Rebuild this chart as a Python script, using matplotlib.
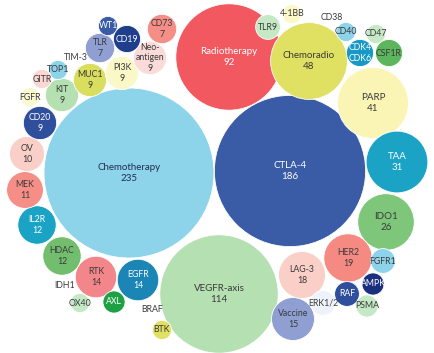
import numpy as np
import matplotlib
matplotlib.use("Agg")
import matplotlib.pyplot as plt
from matplotlib.patches import Circle

plt.rcParams['font.family'] = ['Lato', 'DejaVu Sans']

# data: target / therapy category and number of trials
names = ["Chemotherapy", "CTLA-4", "VEGFR-axis", "Radiotherapy", "Chemoradio",
         "PARP", "TAA", "IDO1", "HER2", "LAG-3", "Vaccine", "EGFR", "RTK",
         "HDAC", "IL2R", "MEK", "OV", "CD20", "KIT", "MUC1", "PI3K",
         "Neo-\nantigen", "TLR", "CD73",
         "WT1", "CD19", "TIM-3", "TOP1", "GITR", "FGFR", "TLR9", "4-1BB",
         "CD38", "CD40", "CD47", "CDK4\nCDK6", "CSF1R", "FGFR1", "AMPK",
         "RAF", "PSMA", "ERK1/2", "BTK", "BRAF", "AXL", "OX40", "IDH1"]
values = [235, 186, 114, 92, 48,
          41, 31, 26, 19, 18, 15, 14, 14,
          12, 12, 11, 10, 9, 9, 9, 9,
          9, 7, 7,
          3, 6, 3, 3, 3, 3, 5, 3,
          3, 3, 3, 6, 6, 5, 4,
          5, 4, 5, 3, 3, 4, 3, 3]
min_shown = 7  # counts below this are not printed

# layout (pixel centres of each bubble) and colours
centres = [(129, 173), (290, 171), (219, 294), (229, 57), (309, 61),
           (373, 103), (397, 162), (386, 222), (348, 258), (302, 275), (293, 319), (138, 280), (96, 277),
           (62, 256), (37, 225), (25, 190), (27, 154), (40, 123), (62, 95), (90, 80), (122, 73),
           (150, 58), (100, 48), (162, 29),
           (108, 26), (127, 39), (76, 57), (58, 70), (42, 79), (30, 97), (268, 27), (292, 14),
           (332, 17), (346, 32), (376, 34), (360, 53), (389, 53), (383, 261), (373, 284),
           (347, 294), (367, 306), (323, 303), (162, 330), (152, 309), (114, 302), (80, 303), (65, 286)]
colors = ["#8dd3ea", "#3a5ba5", "#b5e0b1", "#f2585f", "#e0e063",
          "#faf5b5", "#1ba3c6", "#7ec77a", "#f58a83", "#f9cfc8", "#8f9fd2", "#1b86b5", "#f3868a",
          "#72be6e", "#1ba3c6", "#f58e86", "#f9cfc8", "#2f4f9c", "#b5e0b1", "#d9de5f", "#fbf8c8",
          "#fbdada", "#8f9fd2", "#f58e86",
          "#3a5ba5", "#1f3e8c", "#ffffff", "#8dd3ea", "#fad7d3", "#fbf8d0", "#c5e8c5", "#fbf8c8",
          "#ffffff", "#8dd3ea", "#c5e8c5", "#1898c4", "#5db55e", "#8dd3ea", "#1b2f7f",
          "#2f4f9c", "#c5e8c5", "#eef2fa", "#e0e063", "#ffffff", "#1ea045", "#c5e8c5", "#ffffff"]
white_text = {"CTLA-4", "Radiotherapy", "TAA", "EGFR", "IL2R", "CD20", "WT1", "CD19",
              "CDK4\nCDK6", "AMPK", "RAF", "AXL"}

k = 85 / np.sqrt(235)  # radius scale, pixels per sqrt(count)

fig = plt.figure(figsize=(4.35, 3.53), dpi=100)
ax = fig.add_axes([0, 0, 1, 1])
ax.set_xlim(0, 435)
ax.set_ylim(353, 0)
ax.set_aspect('equal')
ax.axis('off')

for name, v, (cx, cy), c in zip(names, values, centres, colors):
    r = k * np.sqrt(v)
    ax.add_patch(Circle((cx, cy), r, facecolor=c, edgecolor='white', linewidth=0.6))
    label = name if v < min_shown else f"{name}\n{v}"
    if name in white_text:
        tc = 'white'
    elif name == "Chemotherapy":
        tc = '#1f3050'
    else:
        tc = '#3a3a3a'
    fs = 7 if v >= 26 else 6.3
    ax.text(cx, cy, label, ha='center', va='center', fontsize=fs, color=tc,
            linespacing=1.15)

fig.savefig("out.png", dpi=100)
